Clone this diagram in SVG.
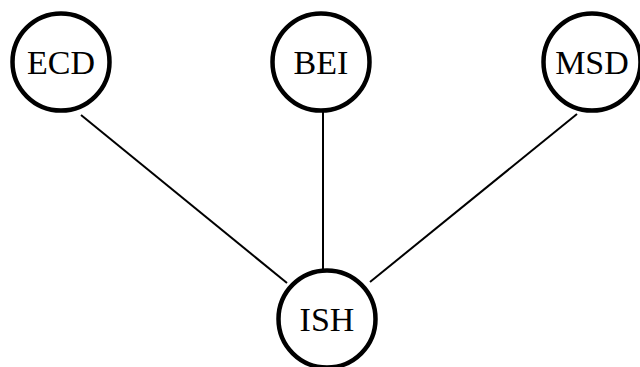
<svg xmlns="http://www.w3.org/2000/svg" width="640" height="367" viewBox="0 0 640 367">
<style>
.node circle{fill:#fff;stroke:#000;stroke-width:4.5}
.node text{font-family:"Liberation Serif","Times New Roman",serif;font-size:34px;fill:#000;text-anchor:middle}
.edges line{stroke:#000;stroke-width:2}
</style>
<rect width="640" height="367" fill="#fff"/>
<g class="edges">
<line x1="81" y1="115" x2="287" y2="283"/>
<line x1="323" y1="111" x2="323" y2="270"/>
<line x1="577" y1="114" x2="370" y2="282"/>
</g>
<g id="ECD" class="node"><circle cx="61" cy="62" r="48.5"/><text x="61" y="74">ECD</text></g>
<g id="BEI" class="node"><circle cx="321" cy="62" r="48.5"/><text x="321" y="74">BEI</text></g>
<g id="MSD" class="node"><circle cx="592" cy="62" r="48.5"/><text x="592" y="74">MSD</text></g>
<g id="ISH" class="node"><circle cx="327" cy="319" r="48.5"/><text x="327" y="331">ISH</text></g>
</svg>
